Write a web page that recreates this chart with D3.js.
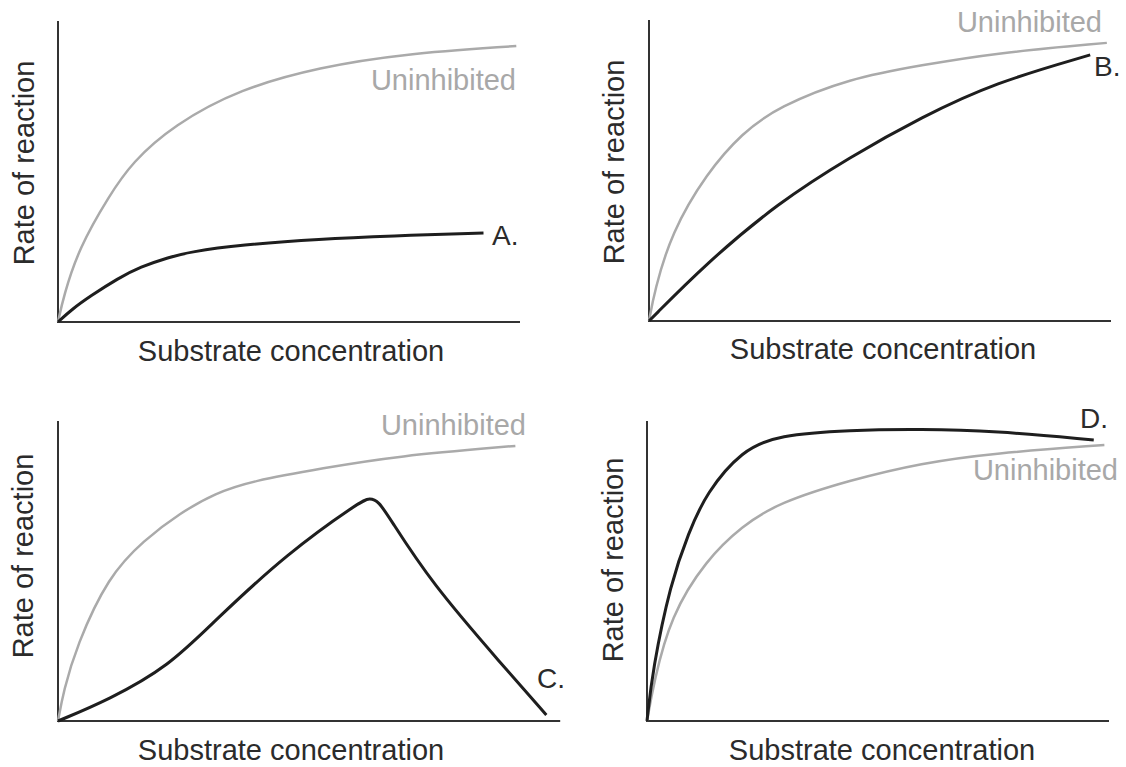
<!DOCTYPE html>
<html lang="en">
<head>
  <meta charset="UTF-8">
  <title>Enzyme inhibition - rate vs substrate concentration</title>
  <script src="https://d3js.org/d3.v7.min.js"></script>
  <style>
    body {
      margin: 0;
      padding: 0;
      background: #fff;
      font-family: "Liberation Sans", Arial, sans-serif;
    }

    svg {
      display: block;
    }

    .axis-line {
      stroke: #333;
      stroke-width: 2;
    }

    .curve-base {
      fill: none;
      stroke: #aaaaaa;
      stroke-width: 2.5;
    }

    .curve-inhib {
      fill: none;
      stroke: #1e1e1e;
      stroke-width: 3;
    }

    .axis-title {
      font-size: 29px;
      fill: #2b2b2b;
    }

    .base-label {
      font-size: 29px;
      fill: #a8a8a8;
    }

    .panel-label {
      font-size: 28px;
      fill: #2b2b2b;
    }
  </style>
</head>
<body>
  <svg width="1126" height="767"></svg>

  <script>
    // values, x and y both in 0..10 units
    const uninhibitedA = [[0,0],[0.12,0.85],[0.45,2.45],[1.11,4.2],[1.6,5.3],[2.5,6.54],[3.94,7.75],[5.68,8.47],[7.41,8.9],[9.92,9.17]];
    const curveA = [[0,0],[0.3,0.42],[0.7,0.86],[1.3,1.45],[1.78,1.83],[2.4,2.15],[2.86,2.33],[3.94,2.56],[5.68,2.76],[7.2,2.86],[9.21,2.96]];

    const uninhibitedB = [[0,0],[0.12,1.0],[0.48,2.92],[1.25,4.92],[2.02,6.25],[2.79,7.11],[4.35,8.07],[5.91,8.5],[7.47,8.9],[9.91,9.24]];
    const curveB = [[0,0],[1.25,1.93],[2.79,3.92],[4.35,5.45],[5.91,6.78],[7.47,7.91],[9.55,8.84]];

    const uninhibitedC = [[0,0],[0.12,1.0],[0.4,2.5],[1.09,4.83],[1.86,6.03],[2.64,6.93],[3.41,7.6],[4.19,8.0],[5.74,8.43],[7.31,8.83],[9.9,9.17]];
    const curveC = [[0,0],[1.09,0.7],[2.41,1.83],[3.41,3.37],[4.97,5.6],[6.53,7.3],[6.75,7.45],[6.95,7.3],[7.15,6.83],[8.08,4.6],[9.64,1.83],[10.57,0.2]];

    const uninhibitedD = [[0,0],[0.15,1.3],[0.51,3.5],[1.28,5.37],[2.06,6.5],[2.84,7.27],[4.39,8.03],[5.94,8.6],[7.5,8.93],[9.9,9.2]];
    const curveD = [[0,0],[0.12,1.7],[0.51,4.6],[0.9,6.27],[1.28,7.6],[2.06,9.03],[2.84,9.53],[4.39,9.7],[5.94,9.73],[7.5,9.67],[9.67,9.37]];

    const panelNames = ["A.", "B.", "C.", "D."];
    const xTitle = "Substrate concentration";
    const yTitle = "Rate of reaction";
    const baseTitle = "Uninhibited";

    // page layout for the four small charts
    const panels = [
      { name: panelNames[0], base: uninhibitedA, inhib: curveA,
        x0: 58, y0: 322, yTop: 21, xEnd: 10.0,
        xTitleX: 291, xTitleY: 361, yTitleX: 34, yTitleY: 163,
        baseLbl: { x: 516, y: 90, anchor: "end" },
        nameLbl: { x: 492, y: 245 } },
      { name: panelNames[1], base: uninhibitedB, inhib: curveB,
        x0: 649, y0: 321, yTop: 20, xEnd: 10.0,
        xTitleX: 883, xTitleY: 359, yTitleX: 624, yTitleY: 162,
        baseLbl: { x: 1102, y: 32, anchor: "end" },
        nameLbl: { x: 1094, y: 76 } },
      { name: panelNames[2], base: uninhibitedC, inhib: curveC,
        x0: 58, y0: 721, yTop: 421, xEnd: 10.87,
        xTitleX: 291, xTitleY: 760, yTitleX: 33, yTitleY: 556,
        baseLbl: { x: 526, y: 435, anchor: "end" },
        nameLbl: { x: 537, y: 688 } },
      { name: panelNames[3], base: uninhibitedD, inhib: curveD,
        x0: 647, y0: 721, yTop: 421, xEnd: 10.0,
        xTitleX: 882, xTitleY: 760, yTitleX: 623, yTitleY: 560,
        baseLbl: { x: 1118, y: 480, anchor: "end" },
        nameLbl: { x: 1080, y: 428 } }
    ];

    const svg = d3.select("svg");

    panels.forEach(p => {
      const x = d3.scaleLinear().domain([0, 10]).range([p.x0, p.x0 + 462]);
      const y = d3.scaleLinear().domain([0, 10]).range([p.y0, p.yTop]);

      const g = svg.append("g");

      const line = d3.line()
        .x(d => x(d[0]))
        .y(d => y(d[1]))
        .curve(d3.curveBasis);

      // axes are plain lines, no ticks
      g.append("line").attr("class", "axis-line")
        .attr("x1", x(0)).attr("x2", x(0))
        .attr("y1", y(0) + 1).attr("y2", y(10));
      g.append("line").attr("class", "axis-line")
        .attr("x1", x(0)).attr("x2", x(p.xEnd))
        .attr("y1", y(0)).attr("y2", y(0));

      g.append("path").attr("class", "curve-base").attr("d", line(p.base));
      g.append("path").attr("class", "curve-inhib").attr("d", line(p.inhib));

      g.append("text").attr("class", "axis-title")
        .attr("x", p.xTitleX).attr("y", p.xTitleY)
        .attr("text-anchor", "middle")
        .text(xTitle);

      g.append("text").attr("class", "axis-title")
        .attr("transform", `translate(${p.yTitleX},${p.yTitleY}) rotate(-90)`)
        .attr("text-anchor", "middle")
        .text(yTitle);

      g.append("text").attr("class", "base-label")
        .attr("x", p.baseLbl.x).attr("y", p.baseLbl.y)
        .attr("text-anchor", p.baseLbl.anchor)
        .text(baseTitle);

      g.append("text").attr("class", "panel-label")
        .attr("x", p.nameLbl.x).attr("y", p.nameLbl.y)
        .text(p.name);
    });
  </script>
</body>
</html>
